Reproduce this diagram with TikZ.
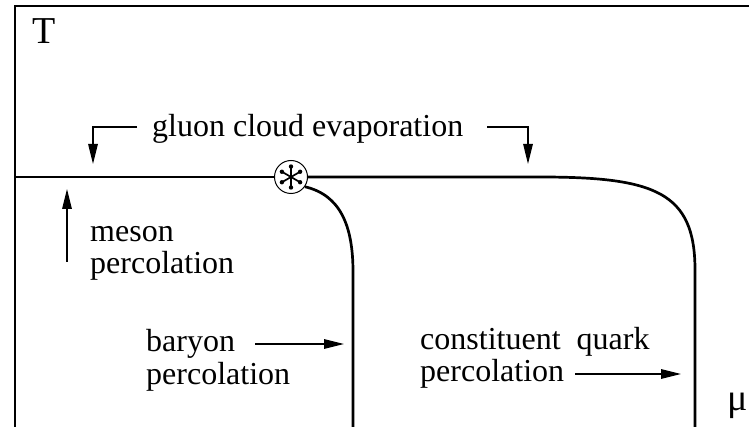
\documentclass[tikz,border=0pt]{standalone}
\usepackage{fontspec}
\setmainfont{Liberation Serif}
\usetikzlibrary{arrows.meta}
\begin{document}
\begin{tikzpicture}[x=1pt,y=-1pt,
  lbl/.style={anchor=base west,inner sep=0pt,font=\fontsize{32}{33}\selectfont},
  axlbl/.style={anchor=base west,inner sep=0pt,font=\fontsize{38}{40}\selectfont},
  curve/.style={line width=2.7pt},
  frame/.style={line width=2.8pt},
  arr/.style={line width=1.3pt,-{Triangle[length=20pt,width=9.5pt]}}]
\useasboundingbox (0,0) rectangle (749,427);
% frame
\coordinate (fr) at (749,6);
\coordinate (fc) at (15,6);
\coordinate (fb) at (15,427);
\draw[frame] (fr) -- (fc) -- (fb);
% labels
\node[axlbl] (T) at (32,44) {T};
\node[axlbl] (mu) at (727,410) {μ};
\node[lbl] (gluon) at (152,137) {gluon cloud evaporation};
\node[lbl] (meson1) at (90,242) {meson};
\node[lbl] (meson2) at (90,274) {percolation};
\node[lbl] (baryon1) at (146,351) {baryon};
\node[lbl] (baryon2) at (146,384) {percolation};
\node[lbl] (cq1) at (420,349) {constituent\ \ quark};
\node[lbl] (cq2) at (420,381) {percolation};
% critical point
\node[circle,draw,line width=1pt,minimum size=33pt,inner sep=0pt,fill=white] (cp) at (291,177) {};
\foreach \a in {30,90,150,210,270,330}{
  \draw[line width=1.7pt,line cap=round] (cp.center) -- ++(\a:10.5);
  \fill (cp.center) ++(\a:10.5) circle (2.2pt);
}
% phase lines
\coordinate (hl) at (15,177);
\coordinate (hr1) at (540,177);
\coordinate (vr) at (695,270);
\coordinate (vrb) at (695,427);
\coordinate (vi) at (353,272);
\coordinate (vib) at (353,427);
\draw[curve] (hl) -- (cp.west);
\draw[curve] (cp.east) -- (hr1) .. controls (655,177) and (695,192) .. (vr) -- (vrb);
\draw[curve] (cp.-35) .. controls (340,195) and (353,225) .. (vi) -- (vib);
% arrows
\coordinate (gl0) at (137,127);
\coordinate (gl1) at (93,127);
\coordinate (gl2) at (93,164);
\coordinate (gr0) at (487,127);
\coordinate (gr1) at (528,127);
\coordinate (gr2) at (528,164);
\draw[arr] (gl0) -- (gl1) -- (gl2);
\draw[arr] (gr0) -- (gr1) -- (gr2);
\coordinate (m0) at (67,262);
\coordinate (m1) at (67,189);
\draw[arr] (m0) -- (m1);
\coordinate (b0) at (255,344);
\coordinate (b1) at (344,344);
\draw[arr] (b0) -- (b1);
\coordinate (c0) at (575,374);
\coordinate (c1) at (681,374);
\draw[arr] (c0) -- (c1);
\end{tikzpicture}
\end{document}
